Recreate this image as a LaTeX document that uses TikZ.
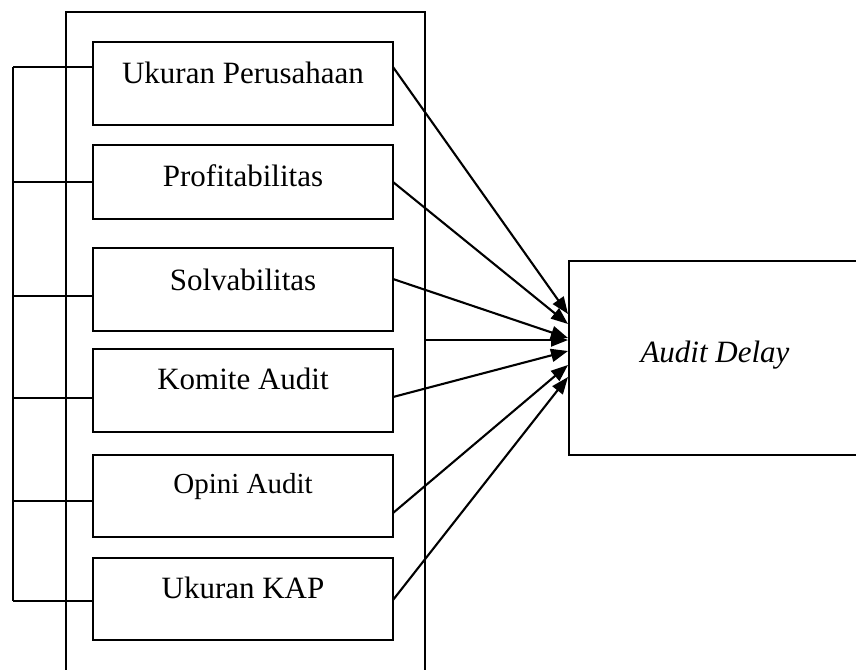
\documentclass[tikz,border=0pt]{standalone}
\usepackage{fontspec}
\setmainfont{Liberation Serif}
\usetikzlibrary{arrows.meta,calc}
\begin{document}
\begin{tikzpicture}[x=1pt,y=-1pt,
  line width=2.1pt,
  varbox/.style={draw=black,line width=2pt,rectangle,minimum width=300pt,minimum height=83pt,inner sep=0pt},
  lbl/.style={anchor=base,inner sep=0pt,font=\fontsize{31}{37}\selectfont},
  arr/.style={-{Triangle[length=17pt,width=13pt]},line width=2.1pt}]
\useasboundingbox (0,0) rectangle (856,669);
% outer frame (open at bottom)
\coordinate (oBL) at (66,680);
\coordinate (oTL) at (66,12);
\coordinate (oTR) at (425,12);
\coordinate (oBR) at (425,680);
\draw[line width=2pt] (oBL) -- (oTL) -- (oTR) -- (oBR);
% variable boxes
\node[varbox] (b1) at (243,83.5) {};
\node[varbox,minimum height=74pt] (b2) at (243,182) {};
\node[varbox] (b3) at (243,289.5) {};
\node[varbox] (b4) at (243,390.5) {};
\node[varbox,minimum height=82pt] (b5) at (243,496) {};
\node[varbox,minimum height=82pt] (b6) at (243,599) {};
\node[lbl] (t1) at (243,83) {Ukuran Perusahaan};
\node[lbl] (t2) at (243,186) {Profitabilitas};
\node[lbl] (t3) at (243,290) {Solvabilitas};
\node[lbl] (t4) at (243,389) {Komite Audit};
\node[lbl,font=\fontsize{29}{35}\selectfont] (t5) at (243,493) {Opini Audit};
\node[lbl] (t6) at (243,598) {Ukuran KAP};
% dependent box
\node[draw=black,line width=2pt,rectangle,minimum width=292pt,minimum height=194pt,inner sep=0pt] (d) at (715,358) {};
\node[lbl] (td) at (715,362) {\itshape Audit Delay};
% left bracket
\coordinate (L1) at (13,67);
\coordinate (L2) at (13,182);
\coordinate (L3) at (13,296);
\coordinate (L4) at (13,398);
\coordinate (L5) at (13,501);
\coordinate (L6) at (13,601);
\draw (L1) -- (L6);
\foreach \i in {1,...,6} { \draw (L\i) -- (L\i -| b\i.west); }
% arrow start points
\coordinate (s1) at (393,67);
\coordinate (s2) at (393,182);
\coordinate (s3) at (393,279);
\coordinate (s4) at (393,397);
\coordinate (s5) at (393,513);
\coordinate (s6) at (393,600);
\coordinate (s7) at (425,340);
% arrow end points on the dependent box
\coordinate (e1) at (568,314);
\coordinate (e2) at (568,324);
\coordinate (e3) at (568,338);
\coordinate (e7) at (568,340);
\coordinate (e4) at (568,351);
\coordinate (e5) at (568,365);
\coordinate (e6) at (568,377);
\foreach \i in {1,...,7} { \draw[arr] (s\i) -- (e\i); }
\end{tikzpicture}
\end{document}
